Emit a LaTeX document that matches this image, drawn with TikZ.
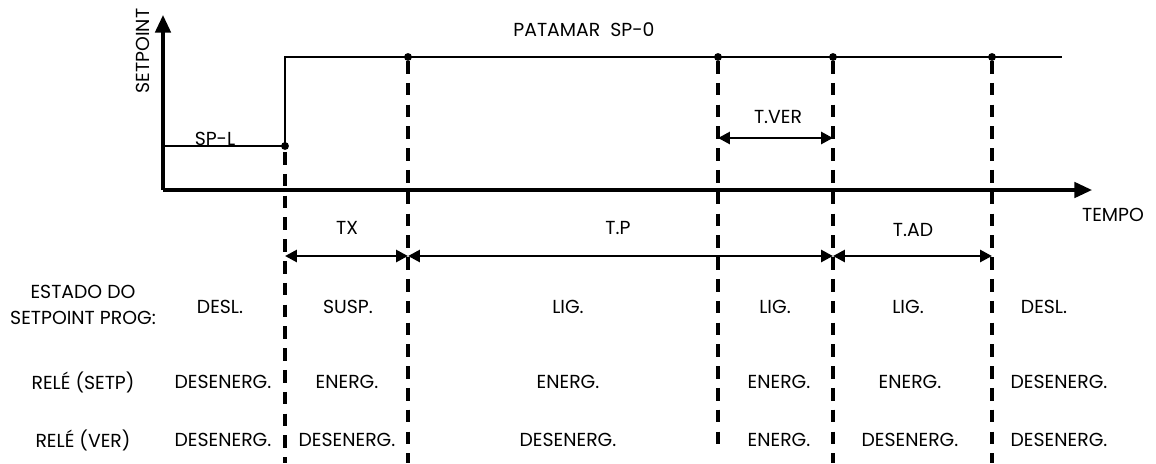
\documentclass[tikz,border=0pt]{standalone}
\usepackage{fontspec}
\setmainfont{Poppins}
\usetikzlibrary{arrows.meta}
\newcommand{\rotulo}{\fontsize{13.4}{18}\selectfont}

\begin{document}
\begin{tikzpicture}[x=0.025cm, y=-0.025cm, font=\rotulo,
    tracejado/.style={line width=2.2pt, dash pattern=on 9pt off 6.5pt},
    cota/.style={line width=2pt, {Triangle[length=8.5pt,width=8.5pt]}-{Triangle[length=8.5pt,width=8.5pt]}},
    eixo/.style={line width=2.3pt, -{Triangle[length=12.5pt,width=11pt]}}]
  \useasboundingbox (0,0) rectangle (1156,463);
  \def\tA{285} \def\tB{408} \def\tC{718} \def\tD{833} \def\tE{992}
  \def\ySP{57} \def\ySL{146} \def\yEixo{190} \def\yCota{256}
  % eixos
  \coordinate (origem) at (163,\yEixo);
  \coordinate (topoY) at (163,15);
  \coordinate (fimX) at (1092,\yEixo);
  \draw[eixo] (origem) -- (topoY);
  \draw[eixo] (origem) -- (fimX);
  \node[rotate=90] (nomeY) at (143,51) {SETPOINT};
  \node (nomeX) at (1113,215) {TEMPO};
  % curva do setpoint
  \draw[line width=1.4pt] (163,\ySL) -- (\tA,\ySL) -- (\tA,\ySP) -- (1062,\ySP);
  \fill (\tA,\ySL) circle (2.8pt);
  \foreach \t in {\tB,\tC,\tD,\tE}
    \fill (\t,\ySP) circle (2.8pt);
  \node (spl) at (215,139) {SP-L};
  \node (pat) at (584,30) {PATAMAR\ \ SP-0};
  % linhas de evento
  \foreach \t/\yi/\yf in {\tA/152/463, \tB/61/463, \tC/61/452, \tD/61/463, \tE/61/463}
    \draw[tracejado] (\t,\yi) -- (\t,\yf);
  % cotas de tempo
  \foreach \n/\t in {A/\tA, B/\tB, D/\tD, E/\tE}
    \coordinate (c\n) at (\t,\yCota);
  \coordinate (vC) at (\tC,138);
  \coordinate (vD) at (\tD,138);
  \draw[cota] (cA) -- (cB);
  \draw[cota] (cB) -- (cD);
  \draw[cota] (cD) -- (cE);
  \draw[cota] (vC) -- (vD);
  \node (tx) at (347,228) {TX};
  \node (tp) at (618,228) {T.P};
  \node (tad) at (913,230) {T.AD};
  \node (tver) at (778,117) {T.VER};
  % tabela de estados
  \node[align=center] (lEst) at (83,305) {ESTADO DO\\SETPOINT PROG:};
  \node (lSetp) at (83,382) {RELÉ (SETP)};
  \node (lVer) at (83,440) {RELÉ (VER)};
  \foreach \x/\txt [count=\i] in {220/DESL., 348/SUSP., 568/LIG., 775/LIG., 908/LIG., 1044/DESL.}
    \node (est\i) at (\x,307) {\txt};
  \foreach \x/\txt [count=\i] in {223/DESENERG., 347/ENERG., 568/ENERG., 779/ENERG., 910/ENERG., 1059/DESENERG.}
    \node (rs\i) at (\x,382) {\txt};
  \foreach \x/\txt [count=\i] in {223/DESENERG., 347/DESENERG., 568/DESENERG., 779/ENERG., 910/DESENERG., 1059/DESENERG.}
    \node (rv\i) at (\x,440) {\txt};
\end{tikzpicture}
\end{document}
